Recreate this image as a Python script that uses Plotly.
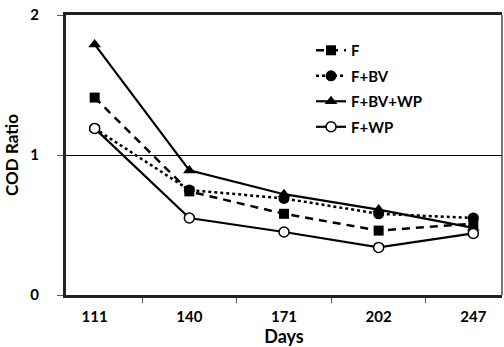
import plotly.graph_objects as go

days = ["111", "140", "171", "202", "247"]
f_vals = [1.41, 0.74, 0.58, 0.46, 0.51]
f_bv_vals = [1.19, 0.75, 0.69, 0.58, 0.55]
f_bv_wp_vals = [1.79, 0.89, 0.72, 0.61, 0.48]
f_wp_vals = [1.19, 0.55, 0.45, 0.34, 0.44]

font_family = "Lato, 'Open Sans', sans-serif"
NB = "\u00a0"

fig = go.Figure()

fig.add_trace(go.Scatter(
    x=days, y=f_vals, name="<b>F</b>", mode="lines+markers", legendgroup="a",
    line=dict(color="black", width=2.5, dash="8px,6px"),
    marker=dict(symbol="square", size=10, color="black"),
))
fig.add_trace(go.Scatter(
    x=days, y=f_bv_vals, name="<b>F+BV</b>", mode="lines+markers", legendgroup="b",
    line=dict(color="black", width=2.5, dash="dot"),
    marker=dict(symbol="circle", size=11, color="black"),
))
fig.add_trace(go.Scatter(
    x=days, y=f_bv_wp_vals, name="<b>F+BV+WP</b>", mode="lines+markers", legendgroup="c",
    line=dict(color="black", width=2.2),
    marker=dict(symbol="triangle-up", size=11, color="black"),
))
fig.add_trace(go.Scatter(
    x=days, y=f_wp_vals, name="<b>F+WP</b>", mode="lines+markers", legendgroup="d",
    line=dict(color="black", width=2.2),
    marker=dict(symbol="circle", size=10, color="white", line=dict(color="black", width=1.5)),
))

fig.update_layout(
    width=504, height=347,
    margin=dict(l=66, r=2, t=15, b=52),
    paper_bgcolor="white", plot_bgcolor="white",
    font=dict(family=font_family, color="black", size=15),
    showlegend=True,
    legend=dict(
        x=0.562, y=0.932, xanchor="left", yanchor="top",
        bgcolor="rgba(0,0,0,0)", borderwidth=0,
        traceorder="grouped", tracegroupgap=3,
        font=dict(size=15, family=font_family, color="black"),
    ),
    xaxis=dict(
        type="category",
        showline=True, linecolor="#222", linewidth=2.5, mirror=True,
        ticks="outside", tickson="boundaries", ticklen=5, tickcolor="#555",
        showgrid=False,
        tickfont=dict(size=15, family=font_family),
        ticklabelstandoff=6,
        tickprefix="<b>", ticksuffix="</b>",
        title=dict(text="<b>Days</b>", font=dict(size=18, family=font_family), standoff=1),
    ),
    yaxis=dict(
        range=[0, 2], dtick=1,
        showline=True, linecolor="#222", linewidth=2.5, mirror=False,
        ticks="outside", ticklen=6, tickcolor="#555",
        showgrid=True, gridcolor="black", gridwidth=1,
        zeroline=False,
        tickfont=dict(size=15, family=font_family),
        tickprefix="<b>", ticksuffix="</b>" + NB * 4,
        title=dict(text="<b>COD Ratio</b>", font=dict(size=17, family=font_family), standoff=8),
    ),
    shapes=[dict(type="line", xref="paper", yref="paper", x0=1, x1=1, y0=0, y1=1,
                 line=dict(color="#222", width=1.2))],
)

fig.write_html(
    "out.html",
    config={"displayModeBar": False},
    post_script="document.body.style.margin='0';document.body.style.padding='0';document.body.style.overflow='hidden';",
)
